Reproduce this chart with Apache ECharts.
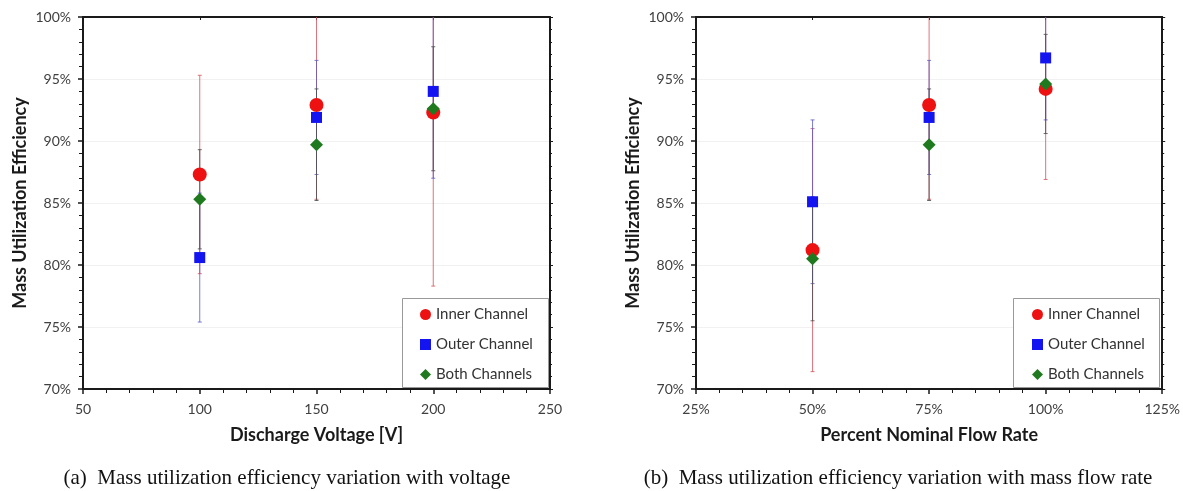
<!DOCTYPE html>
<html>
<head>
<meta charset="utf-8">
<script src="https://cdn.jsdelivr.net/npm/echarts@6/dist/echarts.min.js"></script>
<style>
html,body{margin:0;padding:0;background:#fff;}
#chart{width:1183px;height:491px;}
</style>
</head>
<body>
<div id="chart"></div>
<script>
// ---- data ----
const seriesNames = ['Inner Channel', 'Outer Channel', 'Both Channels'];
const voltage = [100, 150, 200];
const flowRate = [50, 75, 100];
const innerV = [87.3, 92.9, 92.3];
const outerV = [80.6, 91.9, 94.0];
const bothV = [85.3, 89.7, 92.6];
const innerVErr = [8.0, 7.6, 14.0];
const outerVErr = [5.2, 4.6, 7.0];
const bothVErr = [4.0, 4.5, 5.0];
const innerF = [81.2, 92.9, 94.2];
const outerF = [85.1, 91.9, 96.7];
const bothF = [80.5, 89.7, 94.6];
const innerFErr = [9.8, 7.6, 7.3];
const outerFErr = [6.6, 4.6, 5.0];
const bothFErr = [5.0, 4.5, 4.0];
const captionA = '(a)  Mass utilization efficiency variation with voltage';
const captionB = '(b)  Mass utilization efficiency variation with mass flow rate';

// ---- styling ----
const FONT = 'Lato';
const colors = ['#ee1111', '#1414f0', '#1f7a1f'];
const errColors = ['rgba(215,80,90,0.8)', 'rgba(90,90,200,0.8)', 'rgba(80,80,80,0.85)'];
const symbols = ['circle', 'rect', 'diamond'];
const symSizes = [14, 11, 13];

function pair(xs, ys) { return xs.map((x, i) => [x, ys[i]]); }
function errData(xs, ys, es) { return xs.map((x, i) => [x, ys[i] - es[i], ys[i] + es[i]]); }

function errRender(color) {
  return function (params, api) {
    const x = api.value(0);
    const pLo = api.coord([x, api.value(1)]);
    const pHi = api.coord([x, api.value(2)]);
    const st = { stroke: color, lineWidth: 1 };
    return {
      type: 'group',
      children: [
        { type: 'line', shape: { x1: pLo[0], y1: pLo[1], x2: pHi[0], y2: pHi[1] }, style: st },
        { type: 'line', shape: { x1: pLo[0] - 2, y1: pLo[1], x2: pLo[0] + 2, y2: pLo[1] }, style: st },
        { type: 'line', shape: { x1: pHi[0] - 2, y1: pHi[1], x2: pHi[0] + 2, y2: pHi[1] }, style: st }
      ]
    };
  };
}

function xAxisMain(gridIndex, min, max, interval, name, fmt) {
  return {
    type: 'value', gridIndex, min, max, interval, position: 'bottom',
    name, nameLocation: 'middle', nameGap: 37,
    nameTextStyle: { fontFamily: FONT, fontSize: 18, fontWeight: 'bold', color: '#1a1a1a' },
    axisLine: { show: true, onZero: false, lineStyle: { color: '#1a1a1a', width: 2 } },
    axisTick: { show: true, length: 5, lineStyle: { color: '#1a1a1a', width: 1.5 } },
    minorTick: { show: true, splitNumber: 5, length: 4, lineStyle: { color: '#1a1a1a', width: 1 } },
    axisLabel: { fontFamily: FONT, fontSize: 14, color: '#404040', margin: 13, formatter: fmt },
    splitLine: { show: false }
  };
}
function xAxisTop(gridIndex, min, max, interval) {
  return {
    type: 'value', gridIndex, min, max, interval, position: 'top',
    axisLine: { show: true, onZero: false, lineStyle: { color: '#1a1a1a', width: 2 } },
    axisTick: { show: true, inside: true, length: 3, lineStyle: { color: '#1a1a1a' } },
    axisLabel: { show: false }, splitLine: { show: false }
  };
}
function yAxisMain(gridIndex) {
  return {
    type: 'value', gridIndex, min: 70, max: 100, interval: 5, position: 'left',
    name: 'Mass Utilization Efficiency', nameLocation: 'middle', nameGap: 54,
    nameTextStyle: { fontFamily: FONT, fontSize: 18, fontWeight: 'bold', color: '#1a1a1a' },
    axisLine: { show: true, onZero: false, lineStyle: { color: '#1a1a1a', width: 2 } },
    axisTick: { show: true, length: 5, lineStyle: { color: '#1a1a1a', width: 1.5 } },
    minorTick: { show: true, splitNumber: 5, length: 4, lineStyle: { color: '#1a1a1a', width: 1 } },
    axisLabel: { fontFamily: FONT, fontSize: 14, color: '#404040', margin: 12, formatter: '{value}%' },
    splitLine: { show: true, lineStyle: { color: '#f1f1f1', width: 1 } }
  };
}
function yAxisRight(gridIndex) {
  return {
    type: 'value', gridIndex, min: 70, max: 100, interval: 5, position: 'right',
    axisLine: { show: true, onZero: false, lineStyle: { color: '#1a1a1a', width: 2 } },
    axisTick: { show: true, length: 3, lineStyle: { color: '#1a1a1a' } },
    minorTick: { show: true, splitNumber: 5, length: 2, lineStyle: { color: '#1a1a1a' } },
    axisLabel: { show: false }, splitLine: { show: false }
  };
}

function buildSeries(xIdx, yIdx, xs, vals, errs) {
  const out = [];
  for (let k = 0; k < 3; k++) {
    out.push({
      type: 'custom', name: seriesNames[k] + ' error', xAxisIndex: xIdx, yAxisIndex: yIdx,
      data: errData(xs, vals[k], errs[k]), renderItem: errRender(errColors[k]),
      clip: true, z: 2, silent: true
    });
  }
  for (let k = 0; k < 3; k++) {
    out.push({
      type: 'scatter', name: seriesNames[k], xAxisIndex: xIdx, yAxisIndex: yIdx,
      data: pair(xs, vals[k]), symbol: symbols[k], symbolSize: symSizes[k],
      itemStyle: { color: colors[k], opacity: 1 }, z: 5 + k
    });
  }
  return out;
}

function legendAt(left) {
  return {
    orient: 'vertical', left, top: 307, padding: 0, itemGap: 15, z: 20,
    itemWidth: 11, itemHeight: 11, selectedMode: false,
    textStyle: { fontFamily: FONT, fontSize: 15, color: '#333', lineHeight: 14 },
    data: seriesNames.map((n, k) => ({ name: n, icon: symbols[k], itemStyle: { color: colors[k] } }))
  };
}

const chart = echarts.init(document.getElementById('chart'), null, { renderer: 'canvas' });
chart.setOption({
  animation: false,
  backgroundColor: '#ffffff',
  grid: [
    { left: 83, right: 633, top: 17, bottom: 102 },
    { left: 696, right: 20, top: 17, bottom: 102 }
  ],
  xAxis: [
    xAxisMain(0, 50, 250, 50, 'Discharge Voltage [V]', '{value}'),
    xAxisMain(1, 25, 125, 25, 'Percent Nominal Flow Rate', '{value}%'),
    xAxisTop(0, 50, 250, 50),
    xAxisTop(1, 25, 125, 25)
  ],
  yAxis: [yAxisMain(0), yAxisMain(1), yAxisRight(0), yAxisRight(1)],
  legend: [legendAt(420), legendAt(1032)],
  graphic: [
    { type: 'rect', z: 3, shape: { x: 402.5, y: 298.5, width: 146, height: 89 }, style: { fill: '#fff', stroke: '#999', lineWidth: 1 } },
    { type: 'rect', z: 3, shape: { x: 1013.5, y: 298.5, width: 146, height: 89 }, style: { fill: '#fff', stroke: '#999', lineWidth: 1 } },
    { type: 'text', x: 287, y: 478, style: { text: captionA, fontFamily: 'Liberation Serif', fontSize: 21, fill: '#111', textAlign: 'center', textVerticalAlign: 'middle' } },
    { type: 'text', x: 898, y: 478, style: { text: captionB, fontFamily: 'Liberation Serif', fontSize: 21, fill: '#111', textAlign: 'center', textVerticalAlign: 'middle' } }
  ],
  series: [].concat(
    buildSeries(0, 0, voltage, [innerV, outerV, bothV], [innerVErr, outerVErr, bothVErr]),
    buildSeries(1, 1, flowRate, [innerF, outerF, bothF], [innerFErr, outerFErr, bothFErr])
  )
});
</script>
</body>
</html>
